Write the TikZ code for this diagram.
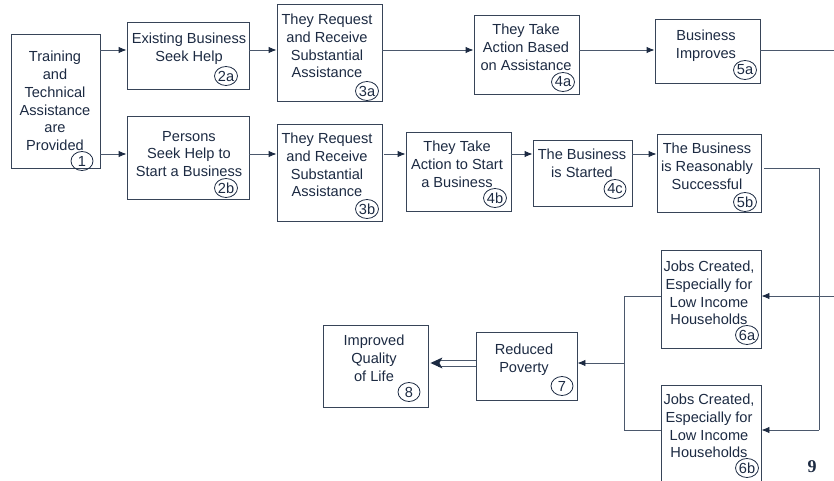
\documentclass[tikz,border=0pt]{standalone}
\usepackage{fontspec}
\setmainfont{Liberation Sans}
\newfontfamily\pagefont{Liberation Serif}
\usetikzlibrary{arrows.meta,shapes.geometric}
\definecolor{lncol}{RGB}{75,88,108}
\definecolor{txcol}{RGB}{28,42,66}
\definecolor{bxcol}{RGB}{55,68,88}
\tikzset{
  bx/.style={draw=bxcol,line width=0.9pt,rectangle,inner sep=0pt},
  tx/.style={text=txcol,align=center,inner sep=0pt,font=\fontsize{14.6}{17.8}\selectfont},
  num/.style={draw=txcol,line width=0.8pt,ellipse,minimum width=22pt,minimum height=19pt,inner sep=0pt,text=txcol,font=\fontsize{14.6}{17}\selectfont},
  ln/.style={draw=lncol,line width=0.9pt},
  arr/.style={ln,-{Latex[length=8pt,width=6.5pt,color=txcol]}},
}
\newcommand\mybox[5]{\node[bx,minimum width={#4-#2},minimum height={#5-#3}] (#1) at ({(#2+#4)/2},{(#3+#5)/2}) {};}
\begin{document}
\begin{tikzpicture}[x=1pt,y=-1pt]
\useasboundingbox (0,0) rectangle (834,481);
\clip (0,0) rectangle (834,481);
% boxes
\mybox{b1}{11}{34}{100}{168}
\mybox{b2a}{127}{22}{249}{89}
\mybox{b2b}{127}{116}{249}{199}
\mybox{b3a}{277}{4}{382}{101}
\mybox{b3b}{277}{124}{382}{221}
\mybox{b4a}{474}{15}{579}{94}
\mybox{b4b}{406}{132}{511}{211}
\mybox{b4c}{533}{140}{632}{206}
\mybox{b5a}{655}{19}{760}{83}
\mybox{b5b}{657}{134}{761}{212}
\mybox{b6a}{661}{250}{761}{348}
\mybox{b6b}{661}{385}{761}{495}
\mybox{b7}{476}{332}{577}{400}
\mybox{b8}{323}{325}{428}{407}
% texts
\node[tx] (t1) at (55,101) {Training\\and\\Technical\\Assistance\\are\\Provided};
\node[tx] (t2a) at (189,49) {Existing Business\\Seek Help};
\node[tx] (t2b) at (189,154) {Persons\\Seek Help to\\Start a Business};
\node[tx] (t3a) at (327,46) {They Request\\and Receive\\Substantial\\Assistance};
\node[tx] (t3b) at (327,165) {They Request\\and Receive\\Substantial\\Assistance};
\node[tx] (t4a) at (526,47) {They Take\\Action Based\\on Assistance};
\node[tx] (t4b) at (457,164) {They Take\\Action to Start\\a Business};
\node[tx] (t4c) at (582,163) {The Business\\is Started};
\node[tx] (t5a) at (706,46) {Business\\Improves};
\node[tx] (t5b) at (707,166) {The Business\\is Reasonably\\Successful};
\node[tx] (t6a) at (709,293) {Jobs Created,\\Especially for\\Low Income\\Households};
\node[tx] (t6b) at (709,426) {Jobs Created,\\Especially for\\Low Income\\Households};
\node[tx] (t7) at (524,360) {Reduced\\Poverty};
\node[tx] (t8) at (374,358) {Improved\\Quality\\of Life};
% circled numbers
\node[num] (n1) at (82,161) {1};
\node[num] (n2a) at (226,76) {2a};
\node[num] (n2b) at (226,188) {2b};
\node[num] (n3a) at (367,91) {3a};
\node[num] (n3b) at (367,209) {3b};
\node[num] (n4a) at (563,82) {4a};
\node[num] (n4b) at (495,198) {4b};
\node[num] (n4c) at (615,189) {4c};
\node[num] (n5a) at (745,70) {5a};
\node[num] (n5b) at (745,202) {5b};
\node[num] (n6a) at (747,335) {6a};
\node[num] (n6b) at (747,468) {6b};
\node[num] (n7) at (562,386) {7};
\node[num] (n8) at (409,392) {8};
% page number
\node[text=txcol,inner sep=0pt,font=\pagefont\bfseries\fontsize{18}{18}\selectfont] (pg) at (812,467) {9};
% coordinates for free ends
\coordinate (e5a) at (834,50);
\coordinate (e6a) at (834,296);
\coordinate (v1) at (819,168);
\coordinate (v2) at (819,430);
\coordinate (k1) at (624,296);
\coordinate (k2) at (624,430);
\coordinate (k3) at (624,363);
% connectors
\draw[arr] (b1.east |- 0,50) -- (b2a.west |- 0,50);
\draw[arr] (b1.east |- 0,154) -- (b2b.west |- 0,154);
\draw[arr] (b2a.east |- 0,50) -- (b3a.west |- 0,50);
\draw[arr] (b2b.east |- 0,154) -- (b3b.west |- 0,154);
\draw[arr] (b3a.east |- 0,50) -- (b4a.west |- 0,50);
\draw[arr] ([xshift=2pt]b3b.east |- 0,154) -- (b4b.west |- 0,154);
\draw[arr] (b4a.east |- 0,50) -- (b5a.west |- 0,50);
\draw[arr] (b4b.east |- 0,154) -- (b4c.west |- 0,154);
\draw[arr] (b4c.east |- 0,154) -- (b5b.west |- 0,154);
\draw[ln] (b5a.east |- 0,50) -- (e5a);
\draw[ln] ([xshift=3pt]b5b.east |- v1) -- (v1) -- (v2);
\draw[arr] (v2) -- (b6b.east |- v2);
\draw[arr] (e6a) -- (b6a.east |- e6a);
\draw[ln] (b6a.west |- k1) -- (k1) -- (k2) -- (b6b.west |- k2);
\draw[arr] (k3) -- (b7.east |- k3);
% double arrow 7 -> 8
\draw[ln] (b7.west |- 0,360) -- ([xshift=10pt]b8.east |- 0,360);
\draw[ln] (b7.west |- 0,366) -- ([xshift=10pt]b8.east |- 0,366);
\fill[txcol] ([xshift=2pt]b8.east |- 0,363) -- ++(12,-5.5) -- ++(-3,5.5) -- ++(3,5.5) -- cycle;
\end{tikzpicture}
\end{document}
